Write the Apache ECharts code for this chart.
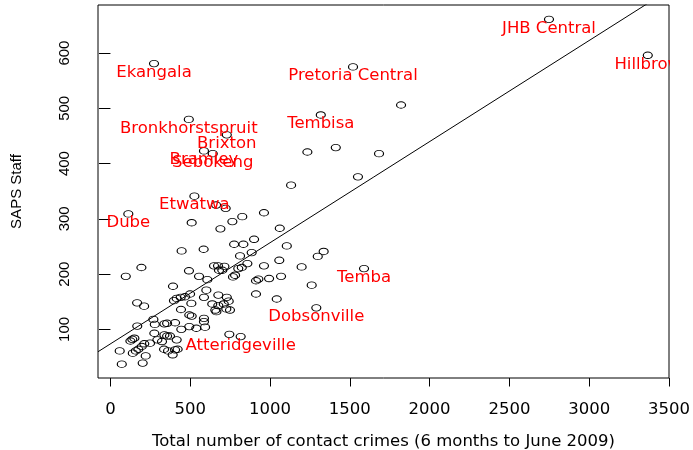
<!DOCTYPE html>
<html><head><meta charset="utf-8">
<script src="https://cdn.jsdelivr.net/npm/echarts@6/dist/echarts.min.js"></script>
<style>html,body{margin:0;padding:0;background:#fff}#c{width:693px;height:450px}</style>
</head><body><div id="c"></div>
<script>
const xTicks = [0, 500, 1000, 1500, 2000, 2500, 3000, 3500];
const yTicks = [100, 200, 300, 400, 500, 600];

const labelNames = ['Ekangala','Pretoria Central','JHB Central','Hillbrow','Bronkhorstspruit','Tembisa','Brixton','Bramley','Sebokeng','Etwatwa','Dube','Temba','Dobsonville','Atteridgeville'];
const labelCrimes = [273, 1520, 2748, 3367, 491, 1318, 729, 586, 641, 526, 112, 1589, 1290, 816];
const labelStaff  = [581, 575, 661, 596, 480, 488, 452, 423, 418, 341, 309, 210, 139, 87];

const crimes = [1234,1412,1683,1132,1551,1821,662,722,509,764,826,962,689,1061,446,584,775,833,900,1105,885,812,1058,858,962,1198,1299,1336,194,96,492,555,607,649,674,680,701,714,768,781,801,823,912,927,994,1069,1261,912,1042,392,167,211,398,415,440,467,499,507,442,586,601,676,729,741,638,657,676,710,726,749,664,494,509,586,586,593,494,538,405,444,338,355,269,278,168,275,338,355,373,323,294,415,248,212,196,175,159,140,221,137,125,150,58,71,202,336,361,390,405,421,745];
const staff  = [421,429,418,361,376,506,325,319,293,295,304,311,282,283,242,245,254,254,263,251,239,233,225,219,215,213,232,241,212,196,206,196,190,215,215,207,207,214,195,198,210,212,188,191,192,196,180,164,155,178,148,142,152,156,158,159,164,147,136,158,171,162,158,151,146,135,143,146,137,135,132,126,124,120,114,104,105,102,112,100,110,111,118,109,106,93,90,88,88,78,81,81,75,74,69,64,61,57,52,82,79,84,61,37,39,64,61,54,63,64,91];

const fitIntercept = 73.8, fitSlope = 0.183;
const xMin = -78, xMax = 3500, yMin = 12, yMax = 687;

const chart = echarts.init(document.getElementById('c'));
const pointStyle = {color: 'transparent', borderColor: '#000', borderWidth: 1, opacity: 1};
const txt = {color: '#000', fontFamily: 'DejaVu Sans', fontSize: 16.5};
const plain = v => String(v);
chart.setOption({
  animation: false,
  grid: {left: 98, right: 24, top: 5, bottom: 72, containLabel: false, outerBoundsMode: 'none',
         show: true, borderColor: '#000', borderWidth: 1, backgroundColor: '#fff'},
  xAxis: {
    type: 'value', min: xMin, max: xMax,
    splitLine: {show: false}, axisLine: {show: false},
    axisTick: {show: true, customValues: xTicks, length: 8.5, lineStyle: {color: '#000'}},
    axisLabel: Object.assign({customValues: xTicks, margin: 23, formatter: plain}, txt),
    name: 'Total number of contact crimes (6 months to June 2009)',
    nameLocation: 'middle', nameGap: 55, nameTextStyle: txt
  },
  yAxis: {
    type: 'value', min: yMin, max: yMax,
    splitLine: {show: false}, axisLine: {show: false},
    axisTick: {show: true, customValues: yTicks, length: 11.5, lineStyle: {color: '#000'}},
    axisLabel: {customValues: yTicks, rotate: 90, margin: 26, formatter: plain, color: '#000', fontFamily: 'Liberation Sans', fontSize: 15},
    name: 'SAPS Staff', nameLocation: 'middle', nameGap: 74,
    nameTextStyle: {color: '#000', fontFamily: 'Liberation Sans', fontSize: 15}
  },
  graphic: [{type: 'rect', shape: {x: 670, y: 0, width: 23, height: 378}, style: {fill: '#fff'}, z: 100, silent: true}],
  series: [
    {type: 'scatter', silent: true, symbol: 'circle', symbolSize: [9, 6.5], itemStyle: pointStyle,
     data: crimes.map((x, i) => [x, staff[i]])},
    {type: 'scatter', silent: true, symbol: 'circle', symbolSize: [9, 6.5], itemStyle: pointStyle,
     data: labelCrimes.map((x, i) => ({name: labelNames[i], value: [x, labelStaff[i]]})),
     label: {show: true, formatter: '{b}', position: 'inside', offset: [0, 9], color: '#ff0000', opacity: 1, fontFamily: 'DejaVu Sans', fontSize: 16.5}},
    {type: 'line', silent: true, symbol: 'none', clip: true, lineStyle: {color: '#000', width: 1},
     data: [[xMin, fitIntercept + fitSlope * xMin], [xMax, fitIntercept + fitSlope * xMax]]}
  ]
});
</script></body></html>
